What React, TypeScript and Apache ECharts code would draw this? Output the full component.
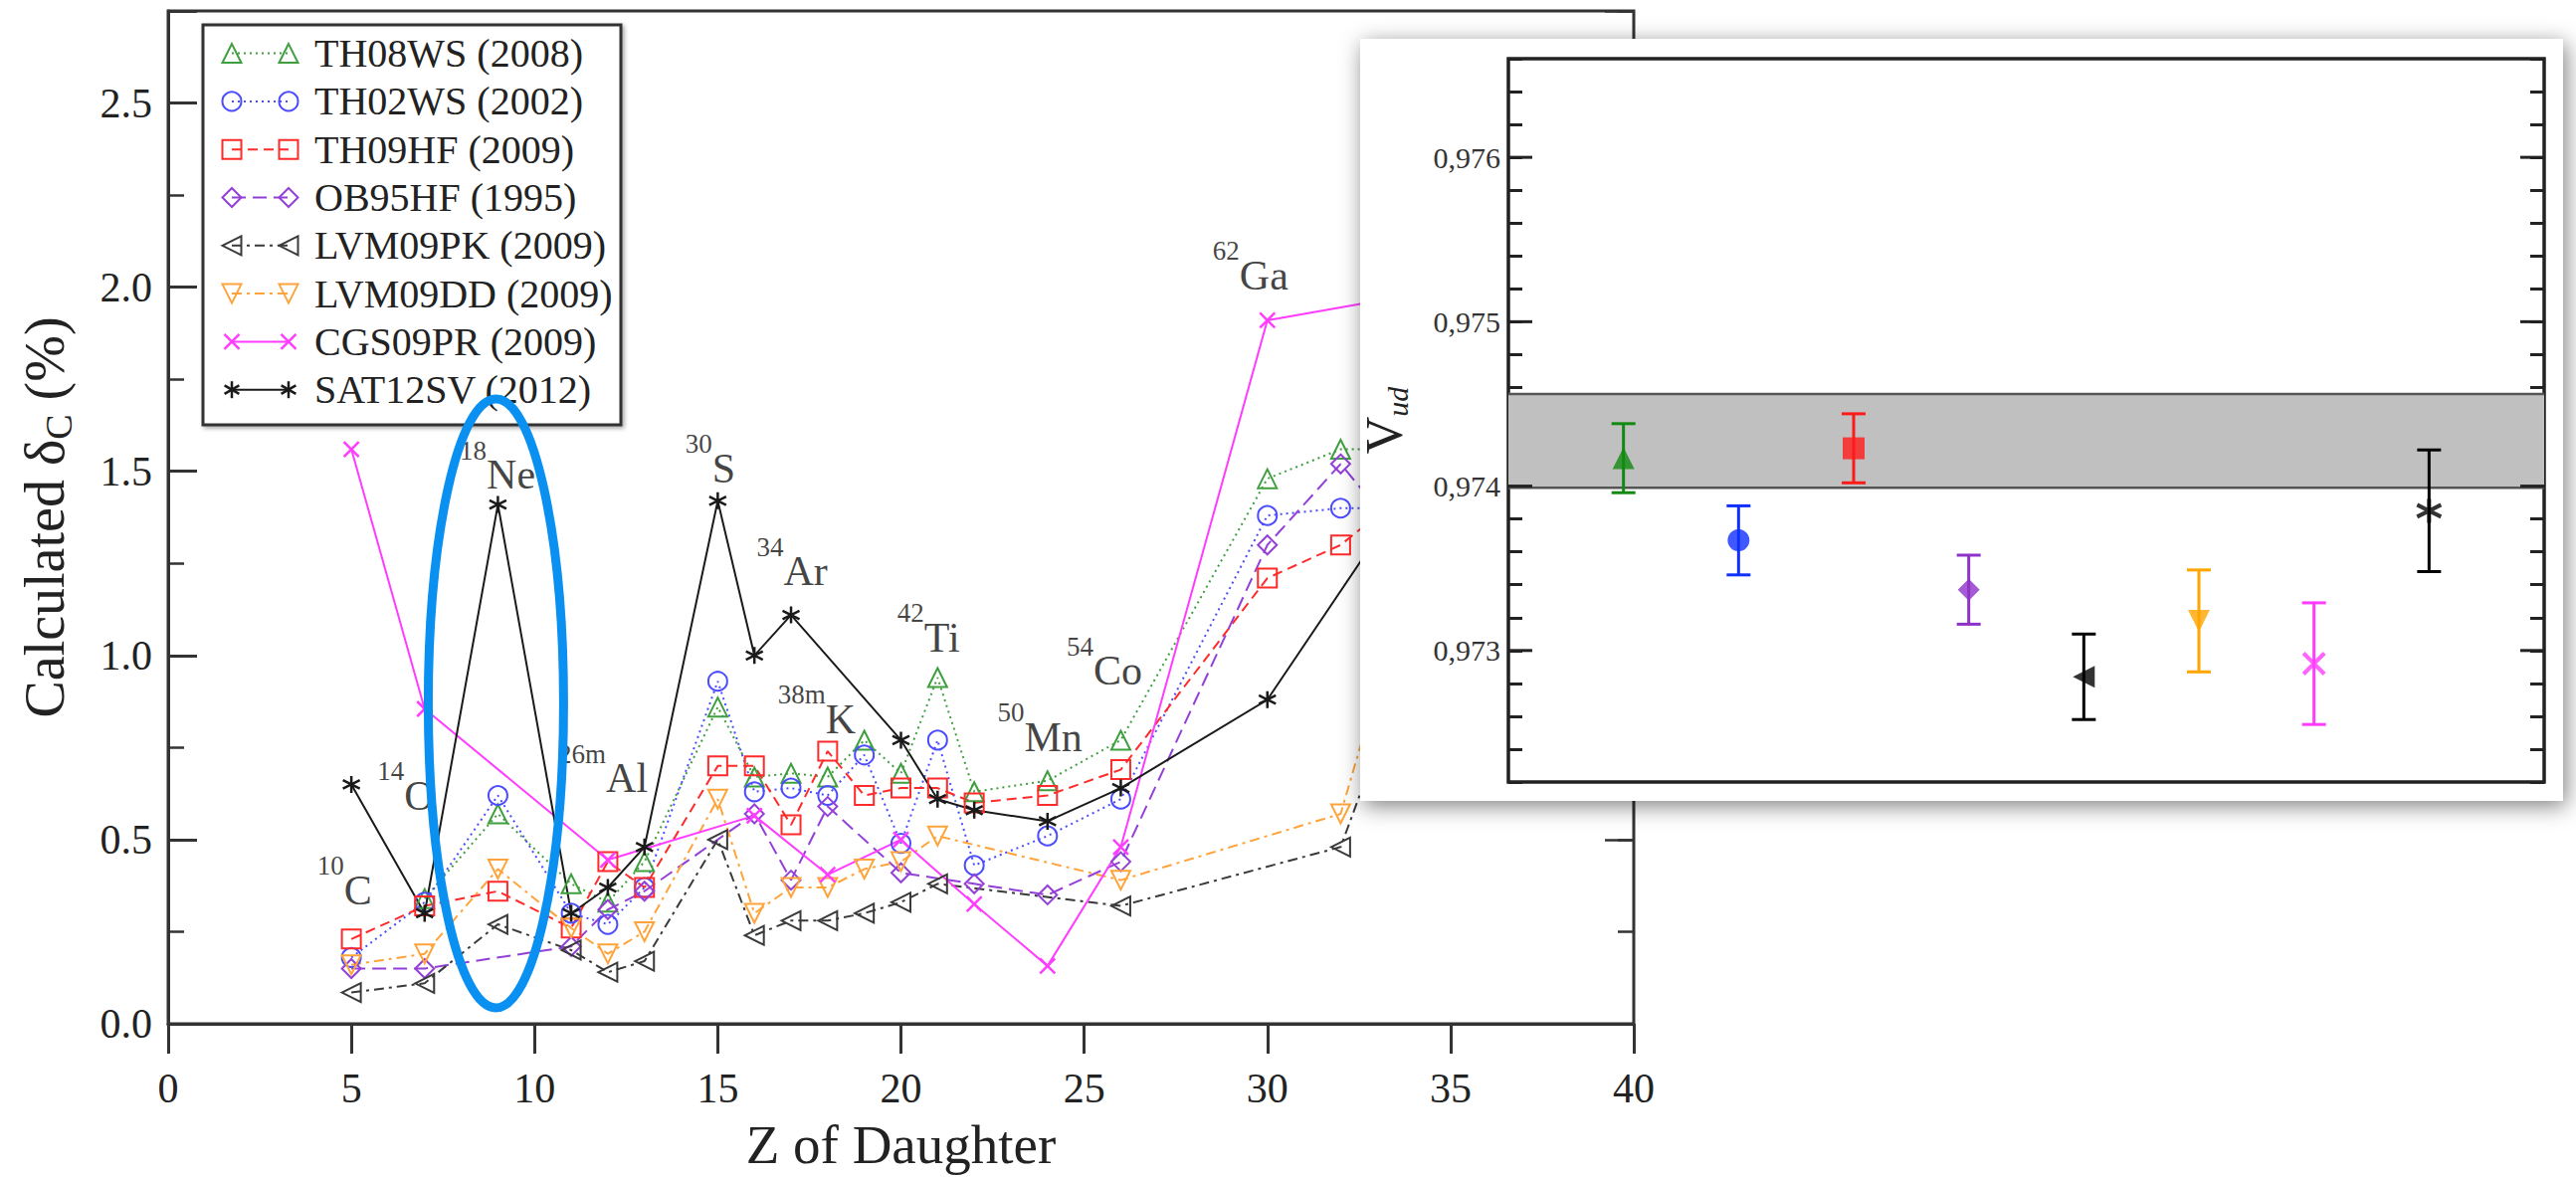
import React, { useEffect, useRef } from 'react';
import * as echarts from 'echarts';

const FONT = 'Liberation Serif, Times New Roman, serif';
const INK = '#222';

// ---- Main panel: isospin-symmetry-breaking correction δC (%) vs Z of daughter ----
const zDaughter = [5, 7, 9, 11, 12, 13, 15, 16, 17, 18, 19, 20, 21, 22, 24, 26, 30, 32, 34];

const seriesNames = [
  'TH08WS (2008)', 'TH02WS (2002)', 'TH09HF (2009)', 'OB95HF (1995)',
  'LVM09PK (2009)', 'LVM09DD (2009)', 'CGS09PR (2009)', 'SAT12SV (2012)',
];

const th08ws = [null, 0.34, 0.57, 0.38, 0.33, 0.44, 0.86, 0.67, 0.68, 0.67, 0.77, 0.68, 0.94, 0.63, 0.66, 0.77, 1.48, 1.56, 1.56];
const th02ws = [0.18, 0.33, 0.62, 0.30, 0.27, 0.37, 0.93, 0.63, 0.64, 0.62, 0.73, 0.49, 0.77, 0.43, 0.51, 0.61, 1.38, 1.40, 1.40];
const th09hf = [0.23, 0.32, 0.36, 0.26, 0.44, 0.37, 0.70, 0.70, 0.54, 0.74, 0.62, 0.64, 0.64, 0.60, 0.62, 0.69, 1.21, 1.30, 1.46];
const ob95hf = [0.15, 0.15, null, 0.21, 0.31, 0.36, null, 0.57, 0.39, 0.59, null, 0.41, null, 0.38, 0.35, 0.44, 1.30, 1.52, 1.28];
const lvm09pk = [0.085, 0.11, 0.27, 0.20, 0.14, 0.17, 0.50, 0.24, 0.28, 0.28, 0.30, 0.33, 0.38, null, null, 0.32, null, 0.48, 1.02];
const lvm09dd = [0.16, 0.19, 0.42, 0.26, 0.19, 0.25, 0.61, 0.30, 0.37, 0.37, 0.42, 0.44, 0.51, null, null, 0.39, null, 0.57, 1.25];
const cgs09pr = [1.56, 0.855, null, null, 0.445, null, null, 0.565, null, 0.405, null, 0.50, null, 0.325, 0.157, 0.48, 1.91, null, 1.98];
const sat12sv = [0.65, 0.30, 1.41, 0.30, 0.37, 0.48, 1.42, 1.00, 1.11, null, null, 0.77, 0.61, 0.58, 0.55, 0.64, 0.88, null, 1.47];

const deltaC = [th08ws, th02ws, th09hf, ob95hf, lvm09pk, lvm09dd, cgs09pr, sat12sv];

const xTicks = { min: 0, max: 40, step: 5 };
const yTicks = { min: 0, max: 2.75, step: 0.5, minorStep: 0.25 };

// nuclide annotations (mass number, element) anchored in data coordinates
const nuclideMass = ['10', '14', '18', '26m', '30', '34', '38m', '42', '50', '54', '62'];
const nuclideSymbol = ['C', 'O', 'Ne', 'Al', 'S', 'Ar', 'K', 'Ti', 'Mn', 'Co', 'Ga'];
const nuclideAtZ = [4.81, 6.49, 8.99, 11.87, 14.8, 17.03, 17.7, 20.75, 23.79, 25.55, 29.54];
const nuclideAtDelta = [0.363, 0.619, 1.49, 0.667, 1.508, 1.228, 0.827, 1.049, 0.779, 0.958, 2.032];

// ---- Inset: resulting Vud for each calculation ----
const vud = [0.97417, 0.97367, 0.97423, 0.97337, 0.97284, 0.97318, 0.97292, 0.97385];
const vudErr = [0.00021, 0.00021, 0.00021, 0.00021, 0.00026, 0.00031, 0.00037, 0.00037];
const vudBand = [0.97399, 0.97456];
const vudAxis = { min: 0.9722, max: 0.9766, minorStep: 0.0002 };
const vudMajorTicks = [0.973, 0.974, 0.975, 0.976];

// ---- styling per calculation ----
const lineColors = ['#3f9f3f', '#4b4bff', '#ff2b2b', '#9440d8', '#3a3a3a', '#ffa43a', '#ff3cff', '#1a1a1a'];
const insetColors = ['#128a12', '#1030ff', '#ff1a1a', '#8e32c8', '#000000', '#ffa500', '#ff3cff', '#000000'];
const lineDashes: any[] = [[2, 4], [2, 4], [10, 6], [14, 7], [10, 5, 3, 5], [10, 5, 3, 5], 'solid', 'solid'];
const markerKinds = ['up', 'circle', 'square', 'diamond', 'left', 'down', 'cross', 'star'];

const CROSS_PATH = 'path://M0 0L10 10M10 0L0 10';
const STAR_PATH = 'path://M5 0L5 10M0.67 2.5L9.33 7.5M0.67 7.5L9.33 2.5';

function echartsSymbol(kind: string) {
  switch (kind) {
    case 'up': return { symbol: 'triangle', symbolRotate: 0 };
    case 'down': return { symbol: 'triangle', symbolRotate: 180 };
    case 'left': return { symbol: 'triangle', symbolRotate: 90 };
    case 'circle': return { symbol: 'circle', symbolRotate: 0 };
    case 'square': return { symbol: 'rect', symbolRotate: 0 };
    case 'diamond': return { symbol: 'diamond', symbolRotate: 0 };
    case 'cross': return { symbol: CROSS_PATH, symbolRotate: 0 };
    default: return { symbol: STAR_PATH, symbolRotate: 0 };
  }
}

// graphic elements for a legend marker
function markerEls(kind: string, cx: number, cy: number, s: number, color: string, filled: boolean, lw: number) {
  const h = s / 2;
  const st = { fill: filled ? color : 'none', stroke: color, lineWidth: lw };
  const ln = (x1: number, y1: number, x2: number, y2: number) => ({
    type: 'line', shape: { x1, y1, x2, y2 }, style: { stroke: color, lineWidth: lw },
  });
  switch (kind) {
    case 'up': return [{ type: 'polygon', shape: { points: [[cx, cy - h], [cx + h, cy + h], [cx - h, cy + h]] }, style: st }];
    case 'down': return [{ type: 'polygon', shape: { points: [[cx, cy + h], [cx + h, cy - h], [cx - h, cy - h]] }, style: st }];
    case 'left': return [{ type: 'polygon', shape: { points: [[cx - h, cy], [cx + h, cy - h], [cx + h, cy + h]] }, style: st }];
    case 'diamond': return [{ type: 'polygon', shape: { points: [[cx, cy - h], [cx + h, cy], [cx, cy + h], [cx - h, cy]] }, style: st }];
    case 'square': return [{ type: 'rect', shape: { x: cx - h, y: cy - h, width: s, height: s }, style: st }];
    case 'circle': return [{ type: 'circle', shape: { cx, cy, r: h }, style: st }];
    case 'cross': return [ln(cx - h, cy - h, cx + h, cy + h), ln(cx + h, cy - h, cx - h, cy + h)];
    default: {
      const a = h * 0.866;
      const b = h * 0.5;
      return [ln(cx, cy - h, cx, cy + h), ln(cx - a, cy - b, cx + a, cy + b), ln(cx - a, cy + b, cx + a, cy - b)];
    }
  }
}

const isMultiple = (v: number, step: number) => Math.abs(v / step - Math.round(v / step)) < 1e-6;

function buildOption() {
  const mainSeries = deltaC.map((vals, i) => {
    const pts = zDaughter.map((z, k) => [z, vals[k]]).filter((p) => p[1] !== null);
    const kind = markerKinds[i];
    const stroked = kind === 'cross' || kind === 'star';
    return {
      type: 'line',
      name: seriesNames[i],
      xAxisIndex: 0,
      yAxisIndex: 0,
      data: pts,
      ...echartsSymbol(kind),
      symbolSize: kind === 'star' ? 17 : kind === 'cross' ? 15 : 19,
      showSymbol: true,
      lineStyle: { color: lineColors[i], width: 2, type: lineDashes[i] },
      itemStyle: {
        color: stroked ? lineColors[i] : 'rgba(255,255,255,0)',
        borderColor: lineColors[i],
        borderWidth: stroked ? 2.5 : 2,
      },
      z: 2,
      silent: true,
      animation: false,
    };
  });

  const labelSeries = {
    type: 'scatter',
    xAxisIndex: 0,
    yAxisIndex: 0,
    symbolSize: 1,
    itemStyle: { color: 'rgba(0,0,0,0)' },
    z: 3,
    silent: true,
    data: nuclideSymbol.map((el, i) => ({
      value: [nuclideAtZ[i], nuclideAtDelta[i]],
      label: { formatter: `{sup|${nuclideMass[i]}}{el|${el}}` },
    })),
    label: {
      show: true,
      position: 'inside',
      rich: {
        sup: { fontSize: 27, lineHeight: 30, verticalAlign: 'top', fontFamily: FONT, color: '#111' },
        el: { fontSize: 42, lineHeight: 76, fontFamily: FONT, color: '#111' },
      },
    },
  };

  const bandSeries = {
    type: 'custom',
    xAxisIndex: 1,
    yAxisIndex: 4,
    z: 12,
    silent: true,
    data: [[0, vudBand[0], vudBand[1]]],
    encode: { x: 0, y: [1, 2] },
    renderItem: (params: any, api: any) => {
      const cs = params.coordSys;
      const yTop = api.coord([0, api.value(2)])[1];
      const yBot = api.coord([0, api.value(1)])[1];
      return {
        type: 'group',
        children: [
          { type: 'rect', shape: { x: cs.x, y: yTop, width: cs.width, height: yBot - yTop }, style: { fill: '#c0c0c0' } },
          { type: 'line', shape: { x1: cs.x, y1: yTop, x2: cs.x + cs.width, y2: yTop }, style: { stroke: '#555', lineWidth: 2.5 } },
          { type: 'line', shape: { x1: cs.x, y1: yBot, x2: cs.x + cs.width, y2: yBot }, style: { stroke: '#555', lineWidth: 2.5 } },
        ],
      };
    },
  };

  const errorSeries = {
    type: 'custom',
    xAxisIndex: 1,
    yAxisIndex: 4,
    z: 13,
    silent: true,
    data: vud.map((v, i) => [i + 1, v - vudErr[i], v + vudErr[i]]),
    encode: { x: 0, y: [1, 2] },
    renderItem: (params: any, api: any) => {
      const x = api.value(0);
      const top = api.coord([x, api.value(2)]);
      const bot = api.coord([x, api.value(1)]);
      const color = insetColors[params.dataIndex];
      const half = 12;
      const st = { stroke: color, lineWidth: 3 };
      return {
        type: 'group',
        children: [
          { type: 'line', shape: { x1: top[0], y1: top[1], x2: bot[0], y2: bot[1] }, style: st },
          { type: 'line', shape: { x1: top[0] - half, y1: top[1], x2: top[0] + half, y2: top[1] }, style: st },
          { type: 'line', shape: { x1: bot[0] - half, y1: bot[1], x2: bot[0] + half, y2: bot[1] }, style: st },
        ],
      };
    },
  };

  const markerSeries = vud.map((v, i) => {
    const kind = markerKinds[i];
    const stroked = kind === 'cross' || kind === 'star';
    return {
      type: 'scatter',
      name: seriesNames[i],
      xAxisIndex: 1,
      yAxisIndex: 4,
      z: 14,
      silent: true,
      data: [[i + 1, v]],
      ...echartsSymbol(kind),
      symbolSize: kind === 'star' ? 24 : stroked ? 21 : 22,
      itemStyle: { color: insetColors[i], borderColor: insetColors[i], borderWidth: stroked ? 4 : 0 },
    };
  });

  const majorTickSeries = {
    type: 'custom',
    xAxisIndex: 1,
    yAxisIndex: 4,
    z: 15,
    silent: true,
    data: vudMajorTicks.map((v) => [0, v]),
    encode: { x: 0, y: 1 },
    renderItem: (params: any, api: any) => {
      const cs = params.coordSys;
      const y = api.coord([0, api.value(1)])[1];
      const st = { stroke: INK, lineWidth: 3 };
      return {
        type: 'group',
        children: [
          { type: 'line', shape: { x1: cs.x, y1: y, x2: cs.x + 24, y2: y }, style: st },
          { type: 'line', shape: { x1: cs.x + cs.width - 24, y1: y, x2: cs.x + cs.width, y2: y }, style: st },
        ],
      };
    },
  };

  const axisInk = { color: '#333', width: 3 };
  const mainY = (position: string, step: number, tickLen: number, labels: boolean) => ({
    type: 'value',
    gridIndex: 0,
    position,
    min: yTicks.min,
    max: yTicks.max,
    interval: step,
    axisLine: { show: position === 'left' && labels, lineStyle: axisInk },
    axisTick: { show: true, inside: true, length: tickLen, lineStyle: { color: '#333', width: labels ? 3 : 2.5 } },
    axisLabel: {
      show: labels,
      margin: 16,
      fontSize: 42,
      fontFamily: FONT,
      color: INK,
      formatter: (v: number) => (isMultiple(v, yTicks.step) ? v.toFixed(1) : ''),
    },
    splitLine: { show: false },
  });

  const insetY = (position: string) => ({
    type: 'value',
    gridIndex: 1,
    position,
    z: 11,
    min: vudAxis.min,
    max: vudAxis.max,
    interval: vudAxis.minorStep,
    axisLine: { show: false },
    axisTick: { show: true, inside: true, length: 14, lineStyle: { color: INK, width: 3 } },
    axisLabel: {
      show: position === 'left',
      margin: 8,
      fontSize: 30,
      fontFamily: FONT,
      color: '#333',
      formatter: (v: number) => (isMultiple(v, 0.001) ? v.toFixed(3).replace('.', ',') : ''),
    },
    splitLine: { show: false },
  });

  return {
    animation: false,
    backgroundColor: '#fff',
    textStyle: { fontFamily: FONT },
    grid: [
      { left: 169, top: 11, width: 1473, height: 1029, show: true, borderColor: '#333', borderWidth: 3, z: 0 },
      { left: 1516, top: 59, width: 1041, height: 727, show: true, borderColor: INK, borderWidth: 3.5, backgroundColor: '#fff', z: 11 },
    ],
    xAxis: [
      {
        type: 'value',
        gridIndex: 0,
        min: xTicks.min,
        max: xTicks.max,
        interval: xTicks.step,
        axisLine: { show: true, lineStyle: axisInk },
        axisTick: { show: true, inside: false, length: 30, lineStyle: { color: '#333', width: 3 } },
        axisLabel: { margin: 44, fontSize: 42, fontFamily: FONT, color: INK },
        splitLine: { show: false },
        name: 'Z of Daughter',
        nameLocation: 'middle',
        nameGap: 94,
        nameTextStyle: { fontSize: 55, fontFamily: FONT, color: INK },
      },
      {
        type: 'value',
        gridIndex: 1,
        z: 11,
        min: 0,
        max: vud.length + 1,
        axisLine: { show: false },
        axisTick: { show: false },
        axisLabel: { show: false },
        splitLine: { show: false },
      },
    ],
    yAxis: [
      {
        ...mainY('left', yTicks.step, 29, true),
        name: '{a|Calculated δ}{b|C}{a| (%)}',
        nameLocation: 'middle',
        nameRotate: 90,
        nameGap: 91,
        nameTextStyle: {
          rich: {
            a: { fontSize: 56, lineHeight: 66, fontFamily: FONT, color: INK },
            b: { fontSize: 38, lineHeight: 38, verticalAlign: 'bottom', fontFamily: FONT, color: INK },
          },
        },
      },
      mainY('left', yTicks.minorStep, 16, false),
      { ...mainY('right', yTicks.step, 29, false), axisLabel: { show: false } },
      { ...mainY('right', yTicks.minorStep, 16, false), axisLabel: { show: false } },
      insetY('left'),
      insetY('right'),
    ],
    series: [...mainSeries, labelSeries, bandSeries, errorSeries, ...markerSeries, majorTickSeries],
  };
}

function buildGraphics(chart: any) {
  const els: any[] = [];

  // legend of the main panel: line sample with a marker at each end
  const mainLegend: any[] = [
    {
      type: 'rect',
      shape: { x: 204, y: 25, width: 420, height: 402 },
      style: { fill: '#fff', stroke: '#333', lineWidth: 3, shadowBlur: 4, shadowColor: 'rgba(0,0,0,0.35)', shadowOffsetX: 2, shadowOffsetY: 2 },
    },
  ];
  seriesNames.forEach((name, i) => {
    const y = 53.6 + i * 48.3;
    const c = lineColors[i];
    const dash = Array.isArray(lineDashes[i]) ? lineDashes[i] : null;
    mainLegend.push({ type: 'line', shape: { x1: 233, y1: y, x2: 290, y2: y }, style: { stroke: c, lineWidth: 2, lineDash: dash } });
    const kind = markerKinds[i];
    const stroked = kind === 'cross' || kind === 'star';
    const s = kind === 'star' ? 17 : kind === 'cross' ? 15 : 19;
    mainLegend.push(...markerEls(kind, 233, y, s, c, false, stroked ? 2.5 : 2));
    mainLegend.push(...markerEls(kind, 290, y, s, c, false, stroked ? 2.5 : 2));
    mainLegend.push({
      type: 'text',
      style: { text: name, x: 316, y, fontSize: 40, fontFamily: FONT, fill: INK, align: 'left', verticalAlign: 'middle' },
    });
  });
  els.push({ type: 'group', z: 5, silent: true, children: mainLegend });

  // highlight around the 18Ne column
  const c = chart.convertToPixel({ xAxisIndex: 0, yAxisIndex: 0 }, [9, 0.87]);
  els.push({
    type: 'ellipse',
    z: 6,
    silent: true,
    shape: { cx: c[0] - 2, cy: c[1], rx: 68, ry: 306 },
    style: { fill: 'none', stroke: '#0a90f0', lineWidth: 9 },
  });

  // inset card
  els.push({
    type: 'rect',
    z: 10,
    silent: true,
    shape: { x: 1367, y: 39, width: 1209, height: 766 },
    style: { fill: '#fff', shadowBlur: 22, shadowColor: 'rgba(0,0,0,0.5)', shadowOffsetX: 3, shadowOffsetY: 5 },
  });

  // inset y-axis title, centred on the inset plot's vertical middle
  const mid = chart.convertToPixel({ xAxisIndex: 1, yAxisIndex: 4 }, [0, (vudAxis.min + vudAxis.max) / 2]);
  els.push({
    type: 'text',
    z: 20,
    silent: true,
    x: mid[0] - 125,
    y: mid[1],
    rotation: Math.PI / 2,
    style: {
      text: '{v|V}{s|ud}',
      align: 'center',
      verticalAlign: 'middle',
      rich: {
        v: { fontSize: 52, lineHeight: 56, fontFamily: FONT, fill: INK },
        s: { fontSize: 30, lineHeight: 30, fontStyle: 'italic', verticalAlign: 'bottom', fontFamily: FONT, fill: INK },
      },
    },
  });

  // inset legend
  const insetLegend: any[] = [
    { type: 'rect', shape: { x: 1569, y: 69, width: 303, height: 298 }, style: { fill: '#fff', stroke: INK, lineWidth: 3 } },
  ];
  seriesNames.forEach((name, i) => {
    const y = 92.6 + i * 35.7;
    const kind = markerKinds[i];
    const stroked = kind === 'cross' || kind === 'star';
    insetLegend.push(...markerEls(kind, 1600, y, kind === 'star' ? 20 : stroked ? 18 : 22, insetColors[i], true, stroked ? 3.5 : 0));
    insetLegend.push({
      type: 'text',
      style: { text: name, x: 1641, y, fontSize: 28, fontFamily: FONT, fill: INK, align: 'left', verticalAlign: 'middle' },
    });
  });
  els.push({ type: 'group', z: 20, silent: true, children: insetLegend });

  return els;
}

export default function App() {
  const ref = useRef<HTMLDivElement>(null);

  useEffect(() => {
    if (!ref.current) return;
    const chart = echarts.init(ref.current, null, { renderer: 'svg' });
    chart.setOption(buildOption() as any);
    chart.setOption({ graphic: { elements: buildGraphics(chart) } } as any);
    return () => chart.dispose();
  }, []);

  return (
    <div
      ref={ref}
      style={{ position: 'fixed', left: 0, top: 0, width: 2589, height: 1183, background: '#fff' }}
    />
  );
}
